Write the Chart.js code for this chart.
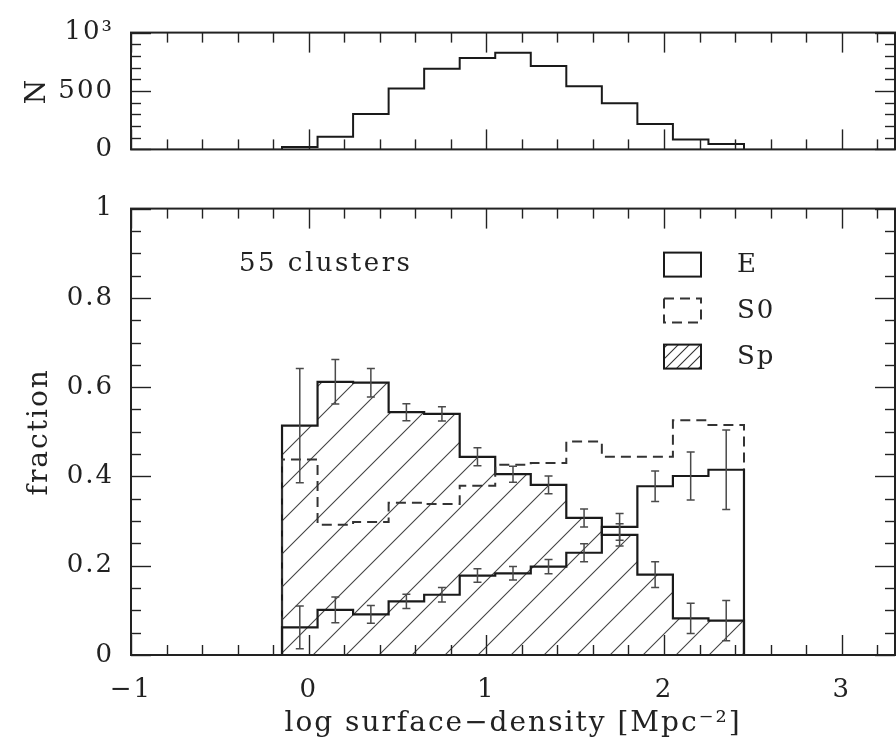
<!DOCTYPE html>
<html><head><meta charset="utf-8">
<script src="https://cdn.jsdelivr.net/npm/chart.js@4.4.1/dist/chart.umd.min.js"></script>
<style>
html,body{margin:0;padding:0;background:#fff;overflow:hidden}
#wrap{position:relative;width:896px;height:741px}
canvas{position:absolute;left:0}
</style></head><body>
<div id="wrap">
<canvas id="topc" width="896" height="182" style="top:0"></canvas>
<canvas id="botc" width="896" height="565" style="top:176px"></canvas>
</div>
<script>
// ---------------- data ----------------
const countEdges = [-0.15, 0.05, 0.25, 0.45, 0.65, 0.85, 1.05, 1.25, 1.45, 1.65, 1.85, 2.05, 2.25, 2.45];
const counts     = [20, 108, 303, 522, 690, 782, 828, 715, 540, 395, 218, 85, 46];

const fracEdges = [-0.35, -0.15, 0.05, 0.25, 0.45, 0.65, 0.85, 1.05, 1.25, 1.45, 1.65, 1.85, 2.05, 2.25, 2.45, 2.65];
const fracE  = [0, 0.062, 0.101, 0.091, 0.120, 0.135, 0.178, 0.183, 0.198, 0.229, 0.287, 0.378, 0.401, 0.415, 0];
const errE   = [0, 0.048, 0.029, 0.020, 0.016, 0.016, 0.015, 0.015, 0.016, 0.020, 0.030, 0.034, 0.054, 0.089, 0];
const fracS0 = [0, 0.438, 0.292, 0.298, 0.341, 0.338, 0.379, 0.426, 0.430, 0.478, 0.444, 0.444, 0.526, 0.515, 0];
const fracSp = [0, 0.514, 0.612, 0.610, 0.544, 0.540, 0.444, 0.405, 0.381, 0.307, 0.269, 0.180, 0.082, 0.077, 0];
const errSp  = [0, 0.128, 0.050, 0.032, 0.019, 0.016, 0.020, 0.018, 0.020, 0.020, 0.025, 0.029, 0.034, 0.045, 0];

const xTicks = [-1, 0, 1, 2, 3];
const xTickLabels = ['\u22121', '0', '1', '2', '3'];
const fracTicks = [0, 0.2, 0.4, 0.6, 0.8, 1];
const fracTickLabels = ['0', '0.2', '0.4', '0.6', '0.8', '1'];
const countTicks = [0, 500, 1000];
const countTickLabels = ['0', '500', '10\u00B3'];
const seriesNames = ['E', 'S0', 'Sp'];
const annotation = '55 clusters';
const xTitle = 'log surface\u2212density [Mpc\u207B\u00B2]';

// ---------------- helpers ----------------
const FONT = 'DejaVu Serif';
const INK = '#1a1a1a';

function steps(edges, vals) {
  const pts = [{x: edges[0], y: 0}];
  vals.forEach((v, i) => pts.push({x: edges[i], y: v}));
  pts.push({x: edges[vals.length], y: vals[vals.length - 1]});
  pts.push({x: edges[vals.length], y: 0});
  return pts;
}
function hatchPattern(s, lw, color) {
  const c = document.createElement('canvas');
  c.width = s; c.height = s;
  const g = c.getContext('2d');
  g.strokeStyle = color; g.lineWidth = lw;
  g.beginPath();
  g.moveTo(0, s); g.lineTo(s, 0);
  g.moveTo(-2, 2); g.lineTo(2, -2);
  g.moveTo(s - 2, s + 2); g.lineTo(s + 2, s - 2);
  g.stroke();
  return g.createPattern(c, 'repeat');
}
const hatchBig = hatchPattern(33, 1.1, '#444');
const hatchSmall = hatchPattern(11, 1.1, '#333');

const framePlugin = {
  id: 'frame',
  beforeDraw(chart) { chart.ctx.letterSpacing = '2px'; },
  afterDatasetsDraw(chart, args, o) {
    const {ctx, chartArea: a, scales: {x, y}} = chart;
    ctx.save();
    ctx.strokeStyle = '#222';
    ctx.lineWidth = 1.4;
    const seg = (x1, y1, x2, y2) => { ctx.beginPath(); ctx.moveTo(x1, y1); ctx.lineTo(x2, y2); ctx.stroke(); };
    const isMajor = (v, M) => Math.abs(v / M - Math.round(v / M)) < 1e-6;
    for (let k = Math.ceil(x.min / o.xMinor - 1e-6); k * o.xMinor <= x.max + 1e-6; k++) {
      const v = k * o.xMinor, px = Math.round(x.getPixelForValue(v)) + 0.5;
      const L = isMajor(v, o.xMajor) ? 20 : 10;
      seg(px, a.bottom, px, a.bottom - L);
      seg(px, a.top, px, a.top + L);
    }
    for (let k = Math.ceil(y.min / o.yMinor - 1e-6); k * o.yMinor <= y.max + 1e-6; k++) {
      const v = k * o.yMinor, py = Math.round(y.getPixelForValue(v)) + 0.5;
      const L = isMajor(v, o.yMajor) ? 20 : 10;
      seg(a.left, py, a.left + L, py);
      seg(a.right, py, a.right - L, py);
    }
    ctx.lineWidth = 2;
    ctx.strokeRect(a.left, a.top, a.right - a.left, a.bottom - a.top);
    ctx.restore();
  }
};

const extrasPlugin = {
  id: 'extras',
  afterDatasetsDraw(chart) {
    const {ctx, chartArea: a, scales: {x, y}} = chart;
    ctx.save();
    // error bars
    ctx.strokeStyle = '#4a4a4a';
    ctx.lineWidth = 1.5;
    const bars = (vals, errs) => {
      vals.forEach((v, i) => {
        const e = errs[i];
        if (!e) return;
        const cx = x.getPixelForValue((fracEdges[i] + fracEdges[i + 1]) / 2);
        const y1 = y.getPixelForValue(v + e), y2 = y.getPixelForValue(v - e);
        ctx.beginPath();
        ctx.moveTo(cx, y1); ctx.lineTo(cx, y2);
        ctx.moveTo(cx - 4, y1); ctx.lineTo(cx + 4, y1);
        ctx.moveTo(cx - 4, y2); ctx.lineTo(cx + 4, y2);
        ctx.stroke();
      });
    };
    bars(fracSp, errSp);
    bars(fracE, errE);

    // annotation
    ctx.fillStyle = '#222';
    ctx.font = '26px "' + FONT + '"';
    ctx.letterSpacing = '2.5px';
    ctx.textBaseline = 'middle';
    ctx.textAlign = 'left';
    ctx.fillText(annotation, 239, a.top + 56);

    // legend
    const ds = chart.data.datasets;
    const order = [0, 1, 2]; // E, S0, Sp
    ctx.font = '26px "' + FONT + '"';
    ctx.letterSpacing = '2px';
    order.forEach((di, r) => {
      const d = ds[di];
      const bx = 664, by = a.top + 44 + r * 46, bw = 37, bh = 24;
      if (d.fill) { ctx.fillStyle = hatchSmall; ctx.fillRect(bx, by, bw, bh); }
      ctx.setLineDash(d.borderDash || []);
      ctx.strokeStyle = d.borderColor;
      ctx.lineWidth = 2;
      ctx.strokeRect(bx, by, bw, bh);
      ctx.setLineDash([]);
      ctx.fillStyle = '#222';
      ctx.fillText(d.label, 737, by + bh / 2 + 1);
    });
    ctx.restore();
  }
};

const axisFontTicks = {family: FONT, size: 26};
const axisFontTitle = {family: FONT, size: 28};

// ---------------- top panel ----------------
new Chart(document.getElementById('topc'), {
  type: 'line',
  data: {datasets: [{
    label: 'N', data: steps(countEdges, counts), stepped: true,
    borderColor: INK, borderWidth: 2, pointRadius: 0, fill: false
  }]},
  options: {
    responsive: false, animation: false, events: [],
    layout: {padding: {top: 21, bottom: 17, left: 0, right: 1}},
    plugins: {legend: {display: false}, tooltip: {enabled: false},
      frame: {xMinor: 0.2, xMajor: 1, yMinor: 100, yMajor: 500}},
    scales: {
      x: {type: 'linear', min: -1, max: 3.3, display: false},
      y: {type: 'linear', min: 0, max: 1000,
        afterFit: s => { s.width = 131; },
        afterBuildTicks: s => { s.ticks = countTicks.map(v => ({value: v})); },
        ticks: {callback: v => countTickLabels[countTicks.indexOf(v)], font: axisFontTicks, color: '#222', padding: 17},
        grid: {display: false, drawTicks: false}, border: {display: false},
        title: {display: true, text: 'N', font: axisFontTitle, color: '#222', padding: {top: 21, bottom: 0}}
      }
    }
  },
  plugins: [framePlugin]
});

// ---------------- bottom panel ----------------
new Chart(document.getElementById('botc'), {
  type: 'line',
  data: {datasets: [
    {label: seriesNames[0], data: steps(fracEdges, fracE), stepped: true,
      borderColor: INK, borderWidth: 2.2, pointRadius: 0, fill: false},
    {label: seriesNames[1], data: steps(fracEdges, fracS0), stepped: true,
      borderColor: '#333', borderWidth: 2, borderDash: [10, 6], pointRadius: 0, fill: false},
    {label: seriesNames[2], data: steps(fracEdges, fracSp), stepped: true,
      borderColor: INK, borderWidth: 2.2, pointRadius: 0, fill: 'origin', backgroundColor: hatchBig}
  ]},
  options: {
    responsive: false, animation: false, events: [],
    layout: {padding: {top: 20, bottom: 0, left: 0, right: 1}},
    plugins: {legend: {display: false}, tooltip: {enabled: false},
      frame: {xMinor: 0.2, xMajor: 1, yMinor: 0.05, yMajor: 0.2}},
    scales: {
      x: {type: 'linear', min: -1, max: 3.3,
        afterFit: s => { s.height = 86; },
        afterBuildTicks: s => { s.ticks = xTicks.map(v => ({value: v})); },
        ticks: {callback: v => xTickLabels[xTicks.indexOf(v)], font: axisFontTicks, color: '#222', padding: 20, maxRotation: 0, autoSkip: false},
        grid: {display: false, drawTicks: false}, border: {display: false},
        title: {display: true, text: xTitle, font: axisFontTitle, color: '#222', padding: {top: 0, bottom: 0}}
      },
      y: {type: 'linear', min: 0, max: 1,
        afterFit: s => { s.width = 131; },
        afterBuildTicks: s => { s.ticks = fracTicks.map(v => ({value: v})); },
        ticks: {callback: v => fracTickLabels[fracTicks.indexOf(v)], font: axisFontTicks, color: '#222', padding: 17},
        grid: {display: false, drawTicks: false}, border: {display: false},
        title: {display: true, text: 'fraction', font: axisFontTitle, color: '#222', padding: {top: 23, bottom: 0}}
      }
    }
  },
  plugins: [framePlugin, extrasPlugin]
});
</script>
</body></html>
